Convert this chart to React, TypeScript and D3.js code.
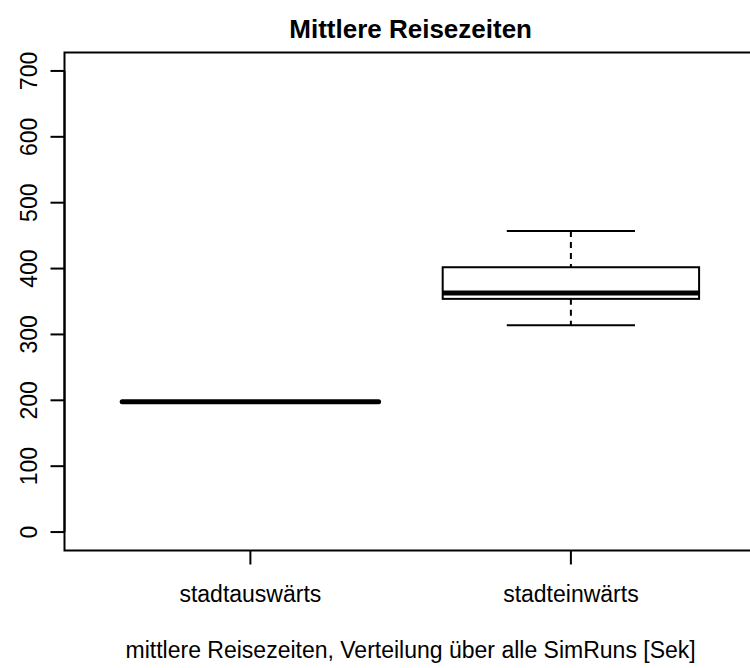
import React from "react";
import * as d3 from "d3";

// Box statistics per direction (seconds)
const categories = ["stadtauswärts", "stadteinwärts"];
const lowerWhisker = [198, 314];
const q1 = [198, 354];
const median = [198, 363];
const q3 = [198, 402];
const upperWhisker = [198, 457];
const yTicks = [0, 100, 200, 300, 400, 500, 600, 700];

const title = "Mittlere Reisezeiten";
const xTitle = "mittlere Reisezeiten, Verteilung über alle SimRuns [Sek]";

const W = 750;
const H = 668;
const font = "'Liberation Sans', Arial, sans-serif";

export default function App() {
  React.useEffect(() => {
    document.body.style.margin = "0";
  }, []);

  // plot region (extends past the right edge, as in the original device)
  const left = 64.5;
  const top = 52.5;
  const bottom = 550.5;
  const unit = 320.5;
  const x = d3
    .scaleLinear()
    .domain([0.42, 2.58])
    .range([left, left + 2.16 * unit]);
  const y = d3.scaleLinear().domain([-28, 728]).range([bottom, top]);
  const right = x(2.58);
  const boxHalf = 0.4;
  const stapleHalf = 0.2;

  return (
    <svg width={W} height={H} style={{ display: "block", background: "#fff" }}>
      <text
        x={(left + right) / 2}
        y={38}
        textAnchor="middle"
        fontFamily={font}
        fontWeight="bold"
        fontSize={26}
        fill="#000"
      >
        {title}
      </text>

      {categories.map((c, i) => {
        const cx = x(i + 1);
        const flat = q1[i] === q3[i];
        return (
          <g key={c} stroke="#000" fill="none">
            {!flat && (
              <>
                <line
                  x1={cx}
                  x2={cx}
                  y1={y(upperWhisker[i])}
                  y2={y(q3[i])}
                  strokeWidth={2}
                  strokeDasharray="6,5"
                />
                <line
                  x1={cx}
                  x2={cx}
                  y1={y(q1[i])}
                  y2={y(lowerWhisker[i])}
                  strokeWidth={2}
                  strokeDasharray="6,5"
                />
                <line
                  x1={x(i + 1 - stapleHalf)}
                  x2={x(i + 1 + stapleHalf)}
                  y1={y(upperWhisker[i])}
                  y2={y(upperWhisker[i])}
                  strokeWidth={2}
                />
                <line
                  x1={x(i + 1 - stapleHalf)}
                  x2={x(i + 1 + stapleHalf)}
                  y1={y(lowerWhisker[i])}
                  y2={y(lowerWhisker[i])}
                  strokeWidth={2}
                />
                <rect
                  x={x(i + 1 - boxHalf)}
                  y={y(q3[i])}
                  width={x(i + 1 + boxHalf) - x(i + 1 - boxHalf)}
                  height={y(q1[i]) - y(q3[i])}
                  strokeWidth={2}
                  fill="#fff"
                />
              </>
            )}
            <line
              x1={x(i + 1 - boxHalf)}
              x2={x(i + 1 + boxHalf)}
              y1={y(median[i])}
              y2={y(median[i])}
              strokeWidth={5}
              strokeLinecap={flat ? "round" : "butt"}
            />
          </g>
        );
      })}

      {/* plot frame */}
      <rect
        x={left}
        y={top}
        width={right - left}
        height={bottom - top}
        fill="none"
        stroke="#000"
        strokeWidth={2}
      />

      {/* y axis */}
      <g stroke="#000" strokeWidth={2}>
        <line x1={left} x2={left} y1={y(0)} y2={y(700)} />
        {yTicks.map((t) => (
          <line key={t} x1={left - 14} x2={left} y1={y(t)} y2={y(t)} />
        ))}
      </g>
      {yTicks.map((t) => (
        <text
          key={t}
          transform={`translate(${37},${y(t)}) rotate(-90)`}
          textAnchor="middle"
          fontFamily={font}
          fontSize={23}
          fill="#000"
        >
          {t}
        </text>
      ))}

      {/* x axis ticks */}
      {categories.map((c, i) => (
        <g key={c}>
          <line
            x1={x(i + 1)}
            x2={x(i + 1)}
            y1={bottom}
            y2={bottom + 14}
            stroke="#000"
            strokeWidth={2}
          />
          <text
            x={x(i + 1)}
            y={602}
            textAnchor="middle"
            fontFamily={font}
            fontSize={23}
            fill="#000"
          >
            {c}
          </text>
        </g>
      ))}

      <text
        x={(left + right) / 2}
        y={658}
        textAnchor="middle"
        fontFamily={font}
        fontSize={23}
        fill="#000"
      >
        {xTitle}
      </text>
    </svg>
  );
}
